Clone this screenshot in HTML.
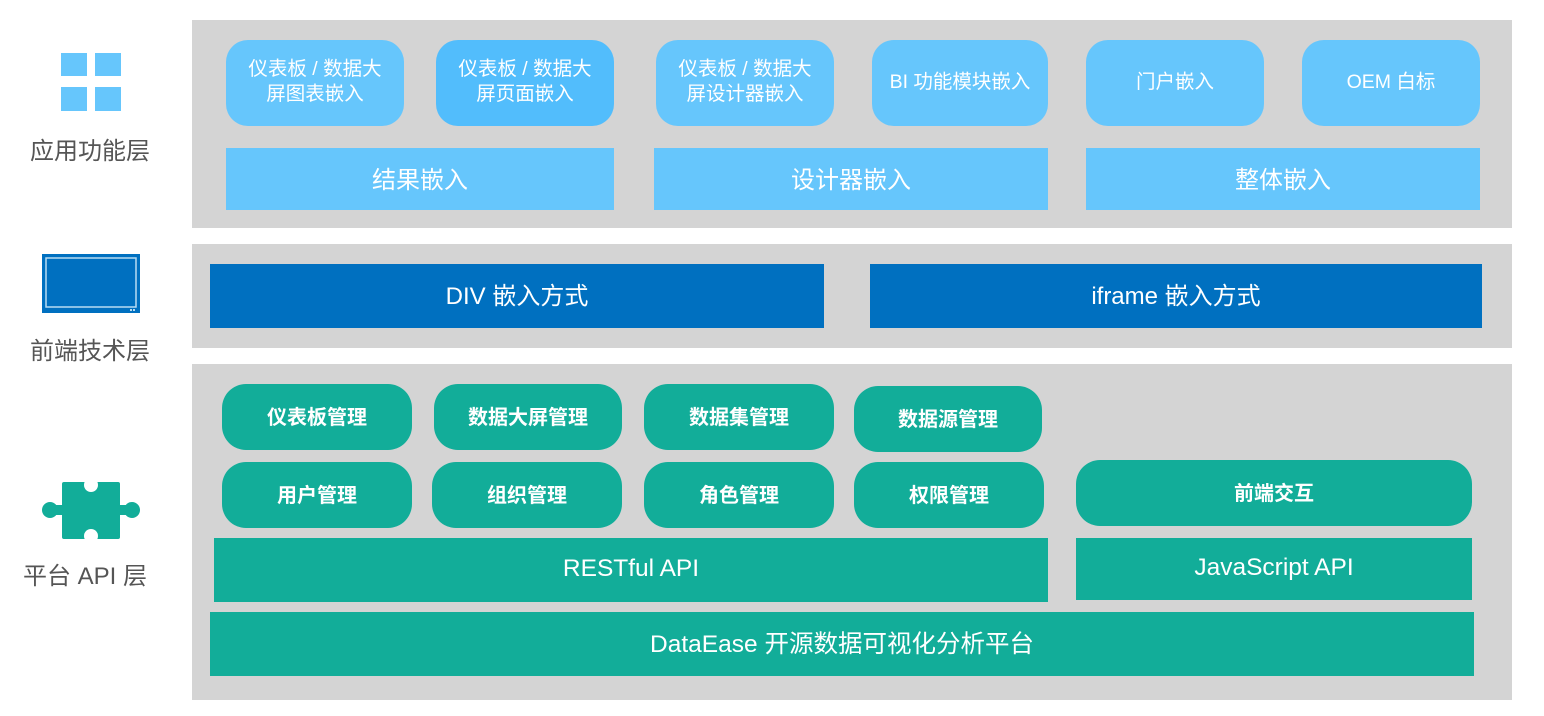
<!DOCTYPE html>
<html><head><meta charset="utf-8"><style>
body{margin:0;width:1544px;height:716px;background:#fff;position:relative;overflow:hidden;font-family:"Liberation Sans","Noto Sans CJK SC",sans-serif}
.a{position:absolute;display:flex;align-items:center;justify-content:center;text-align:center;color:#fff;box-sizing:border-box;white-space:nowrap}
.p{position:absolute;background:#d4d4d4}
.lb{background:#66c6fc;border-radius:22px;font-size:19.5px;line-height:25px;padding-bottom:2px}
.bar{background:#66c6fc;font-size:24px;padding-bottom:4px}
.db{background:#0070c0;font-size:24px;padding-bottom:5px}
.t{background:#12ad99;border-radius:24px;font-size:20px;font-weight:bold;padding-bottom:4px}
.tb{background:#12ad99;font-size:24.5px;padding-bottom:3px}
.lab{position:absolute;color:#555;font-size:24px;text-align:center;width:180px}
</style></head><body>
<div class="p" style="left:192px;top:20px;width:1320px;height:208px"></div>
<div class="p" style="left:192px;top:244px;width:1320px;height:104px"></div>
<div class="p" style="left:192px;top:364px;width:1320px;height:336px"></div>

<div class="a lb" style="left:226px;top:40px;width:178px;height:86px">仪表板 / 数据大<br>屏图表嵌入</div>
<div class="a lb" style="left:436px;top:40px;width:178px;height:86px;background:#52bdfc">仪表板 / 数据大<br>屏页面嵌入</div>
<div class="a lb" style="left:656px;top:40px;width:178px;height:86px">仪表板 / 数据大<br>屏设计器嵌入</div>
<div class="a lb" style="left:872px;top:40px;width:176px;height:86px">BI 功能模块嵌入</div>
<div class="a lb" style="left:1086px;top:40px;width:178px;height:86px">门户嵌入</div>
<div class="a lb" style="left:1302px;top:40px;width:178px;height:86px">OEM 白标</div>
<div class="a bar" style="left:226px;top:148px;width:388px;height:62px">结果嵌入</div>
<div class="a bar" style="left:654px;top:148px;width:394px;height:62px">设计器嵌入</div>
<div class="a bar" style="left:1086px;top:148px;width:394px;height:62px">整体嵌入</div>

<div class="a db" style="left:210px;top:264px;width:614px;height:64px">DIV 嵌入方式</div>
<div class="a db" style="left:870px;top:264px;width:612px;height:64px">iframe 嵌入方式</div>

<div class="a t" style="left:222px;top:384px;width:190px;height:66px">仪表板管理</div>
<div class="a t" style="left:434px;top:384px;width:188px;height:66px">数据大屏管理</div>
<div class="a t" style="left:644px;top:384px;width:190px;height:66px">数据集管理</div>
<div class="a t" style="left:854px;top:386px;width:188px;height:66px">数据源管理</div>
<div class="a t" style="left:222px;top:462px;width:190px;height:66px">用户管理</div>
<div class="a t" style="left:432px;top:462px;width:190px;height:66px">组织管理</div>
<div class="a t" style="left:644px;top:462px;width:190px;height:66px">角色管理</div>
<div class="a t" style="left:854px;top:462px;width:190px;height:66px">权限管理</div>
<div class="a t" style="left:1076px;top:460px;width:396px;height:66px">前端交互</div>
<div class="a tb" style="left:214px;top:538px;width:834px;height:64px">RESTful API</div>
<div class="a tb" style="left:1076px;top:538px;width:396px;height:62px">JavaScript API</div>
<div class="a tb" style="left:210px;top:612px;width:1264px;height:64px">DataEase 开源数据可视化分析平台</div>

<svg style="position:absolute;left:0;top:0" width="190" height="716">
<g fill="#66c6fc"><rect x="61" y="53" width="26" height="23"/><rect x="95" y="53" width="26" height="23"/><rect x="61" y="87" width="26" height="24"/><rect x="95" y="87" width="26" height="24"/></g>
<rect x="42" y="254" width="98" height="59" fill="#0070c0"/>
<rect x="46" y="258" width="90" height="49" fill="none" stroke="#b8dcf2" stroke-width="1.5"/>
<rect x="130" y="309" width="2" height="2" fill="#b8dcf2"/><rect x="133" y="309" width="2" height="2" fill="#b8dcf2"/>
<g fill="#12ad99"><rect x="62" y="482" width="58" height="57" rx="2"/>
<circle cx="50" cy="510" r="8"/><rect x="50" y="505" width="14" height="10"/>
<circle cx="132" cy="510" r="8"/><rect x="118" y="505" width="14" height="10"/></g>
<g fill="#fff"><circle cx="91" cy="485" r="7"/><rect x="87" y="480" width="8" height="4"/>
<circle cx="91" cy="536" r="7"/><rect x="87" y="536" width="8" height="4"/></g>
</svg>
<div class="lab" style="left:0;top:131px">应用功能层</div>
<div class="lab" style="left:0;top:331px">前端技术层</div>
<div class="lab" style="left:-5px;top:556px">平台 API 层</div>
</body></html>
